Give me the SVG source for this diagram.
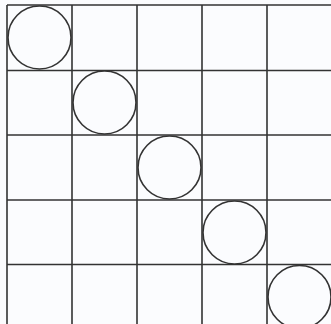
<svg xmlns="http://www.w3.org/2000/svg" width="331" height="324" viewBox="0 0 331 324">
<style>
.g{stroke:#333;stroke-width:1.6;fill:none}
.c{stroke:#333;stroke-width:1.6;fill:#fbfcfe}
</style>
<rect width="331" height="324" fill="#fbfcfe"/>
<g id="grid" class="g">
<line x1="7" y1="5" x2="7" y2="324"/>
<line x1="72" y1="5" x2="72" y2="324"/>
<line x1="137" y1="5" x2="137" y2="324"/>
<line x1="202" y1="5" x2="202" y2="324"/>
<line x1="267" y1="5" x2="267" y2="324"/>
<line x1="7" y1="5" x2="331" y2="5"/>
<line x1="7" y1="70.5" x2="331" y2="70.5"/>
<line x1="7" y1="135" x2="331" y2="135"/>
<line x1="7" y1="200" x2="331" y2="200"/>
<line x1="7" y1="264.5" x2="331" y2="264.5"/>
</g>
<g id="circle1"><circle class="c" cx="39.5" cy="37.5" r="31.5"/></g>
<g id="circle2"><circle class="c" cx="104.5" cy="102.5" r="31.5"/></g>
<g id="circle3"><circle class="c" cx="169.5" cy="167.5" r="31.5"/></g>
<g id="circle4"><circle class="c" cx="234.5" cy="232.5" r="31.5"/></g>
<g id="circle5"><circle class="c" cx="299.5" cy="297" r="31.5"/></g>
</svg>
